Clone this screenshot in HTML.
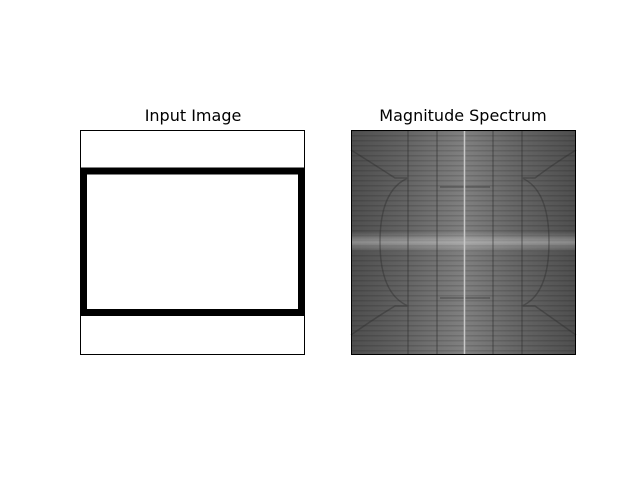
<!DOCTYPE html>
<html><head><meta charset="utf-8"><style>
body{margin:0;background:#fff;width:640px;height:480px;overflow:hidden;font-family:"DejaVu Sans","Liberation Sans",sans-serif}
</style></head><body>
<svg width="640" height="480" viewBox="0 0 640 480">
<defs>
<linearGradient id="hg" x1="0" x2="1" y1="0" y2="0">
<stop offset="0" stop-color="#4e4e4e"/><stop offset="0.25" stop-color="#646464"/><stop offset="0.5" stop-color="#808080"/><stop offset="0.75" stop-color="#646464"/><stop offset="1" stop-color="#4e4e4e"/>
</linearGradient>
<linearGradient id="band" x1="0" x2="0" y1="0" y2="1">
<stop offset="0" stop-color="#fff" stop-opacity="0"/><stop offset="0.5" stop-color="#fff" stop-opacity="0.35"/><stop offset="1" stop-color="#fff" stop-opacity="0"/>
</linearGradient>
<pattern id="stripes" width="4" height="5" patternUnits="userSpaceOnUse">
<rect width="4" height="1.5" fill="#000" opacity="0.12"/>
</pattern>
</defs>
<text x="193" y="121" text-anchor="middle" font-size="16">Input Image</text>
<g>
<rect x="80" y="130" width="225" height="225" fill="#fff"/>
<rect x="83.5" y="171" width="218" height="141.5" fill="none" stroke="#000" stroke-width="7"/>
<rect x="80.5" y="130.5" width="224" height="224" fill="none" stroke="#000" stroke-width="1"/>
</g>
<text x="463" y="121" text-anchor="middle" font-size="16">Magnitude Spectrum</text>
<g>
<rect x="351" y="130" width="225" height="225" fill="url(#hg)"/>
<rect x="351" y="130" width="225" height="225" fill="url(#stripes)"/>
<rect x="351" y="232" width="225" height="20" fill="url(#band)"/>
<g stroke="#2a2a2a" stroke-width="1.5" fill="none" opacity="0.4">
<line x1="437" y1="130" x2="437" y2="355"/>
<line x1="493" y1="130" x2="493" y2="355"/>
<path d="M408 130 L408 355"/>
<path d="M522 130 L522 355"/>
<path d="M408 178 Q380 190 380 242 Q380 294 408 306"/>
<path d="M522 178 Q549 190 549 242 Q549 294 522 306"/>
<path d="M351 150 Q375 165 395 178 L408 178"/>
<path d="M351 335 Q375 318 395 306 L408 306"/>
<path d="M576 150 Q552 165 535 178 L522 178"/>
<path d="M576 335 Q552 318 535 306 L522 306"/>
<line x1="440" y1="187" x2="490" y2="187"/>
<line x1="440" y1="298" x2="490" y2="298"/>
</g>
<line x1="464.5" y1="130" x2="464.5" y2="355" stroke="#c8c8c8" stroke-width="1.5"/>
<rect x="351.5" y="130.5" width="224" height="224" fill="none" stroke="#000" stroke-width="1"/>
</g>
</svg>
</body></html>
